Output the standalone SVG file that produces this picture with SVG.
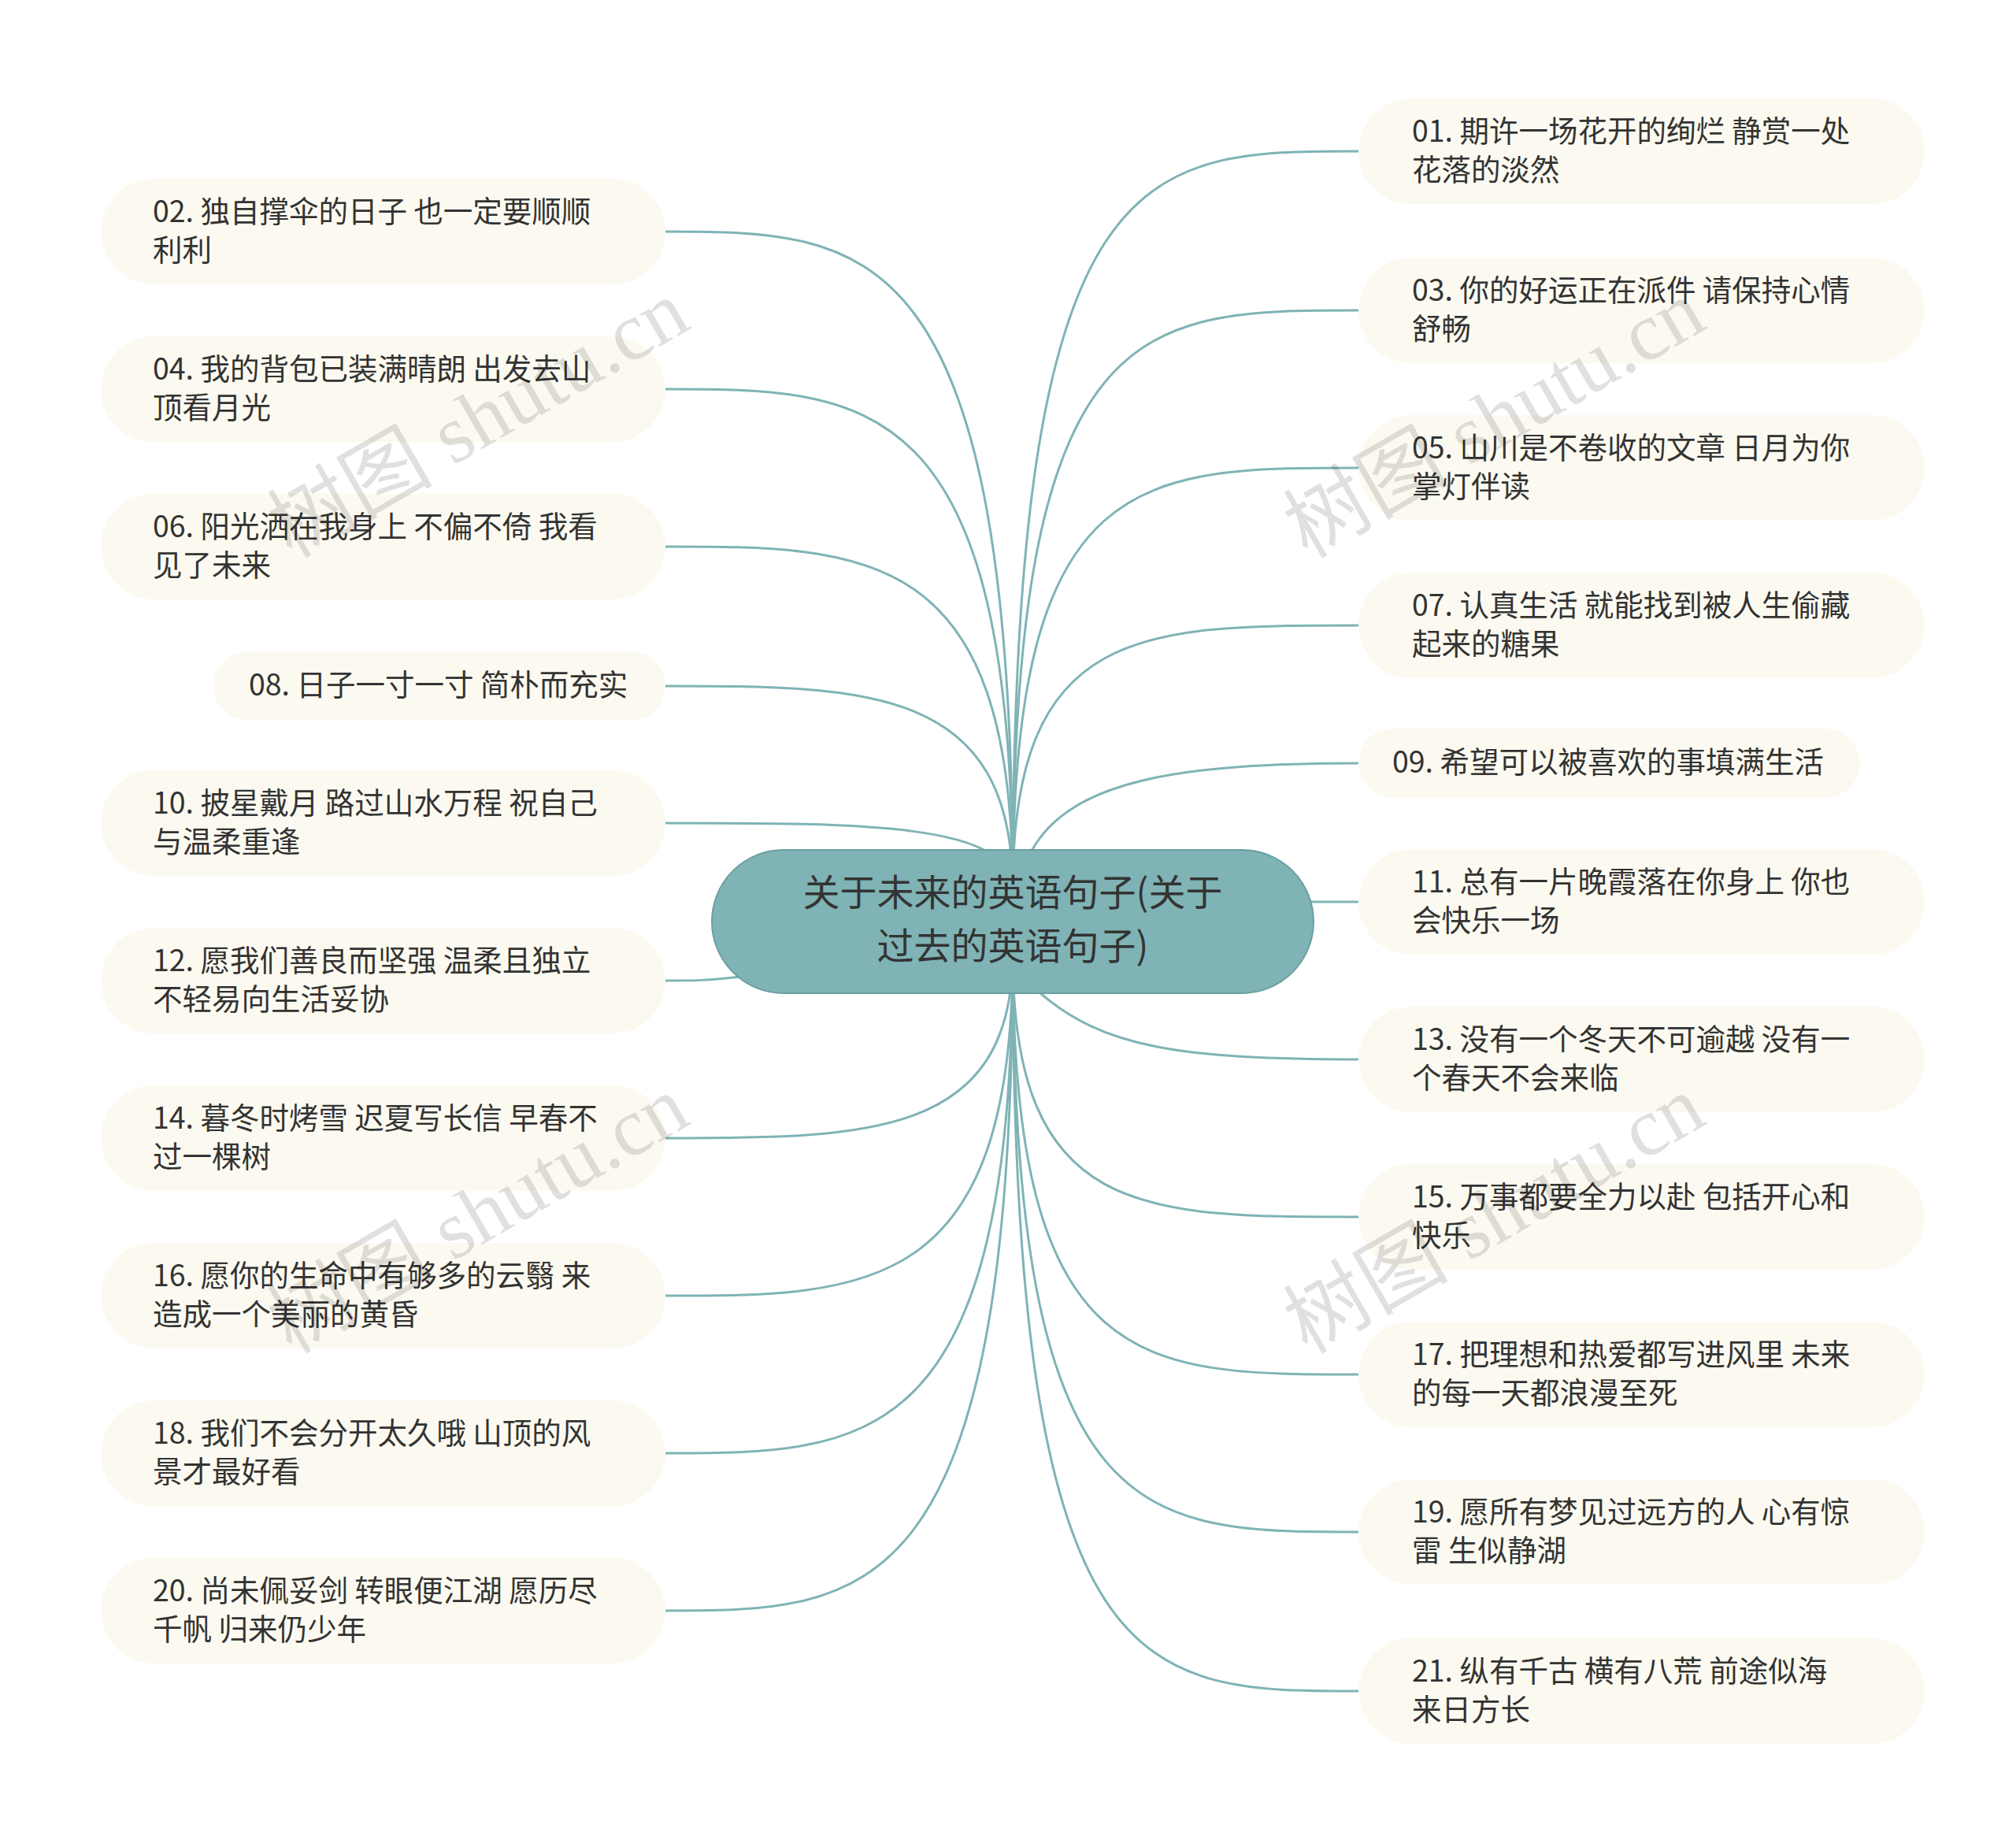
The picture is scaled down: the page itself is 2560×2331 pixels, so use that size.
<svg xmlns="http://www.w3.org/2000/svg" width="2560" height="2331" viewBox="0 0 2560 2331">
<style>
.n{fill:#fcfaf0}
.t{font-family:"Noto Sans CJK SC","Noto Sans",sans-serif;font-size:37.5px;fill:#333}
.e{fill:none;stroke:#7fb3b5;stroke-width:3}
.w{font-family:"Liberation Serif","Noto Sans CJK SC",serif;font-size:105px;fill:#000;fill-opacity:0.12}
</style>
<rect width="2560" height="2331" fill="#fff"/>
<g id="edges">
<path class="e" d="M1286 1130 C1286 294 1100 294 845 294"/>
<path class="e" d="M1286 1130 C1286 494 1100 494 845 494"/>
<path class="e" d="M1286 1130 C1286 694 1100 694 845 694"/>
<path class="e" d="M1286 1130 C1286 871 1100 871 845 871"/>
<path class="e" d="M1286 1130 C1286 1045 1100 1045 845 1045"/>
<path class="e" d="M940 1240 C900 1245 880 1245 845 1245"/>
<path class="e" d="M1286 1210 C1286 1445 1100 1445 845 1445"/>
<path class="e" d="M1286 1210 C1286 1645 1100 1645 845 1645"/>
<path class="e" d="M1286 1210 C1286 1845 1100 1845 845 1845"/>
<path class="e" d="M1286 1210 C1286 2045 1100 2045 845 2045"/>
<path class="e" d="M1286 1130 C1286 192 1450 192 1725 192"/>
<path class="e" d="M1286 1130 C1286 394 1450 394 1725 394"/>
<path class="e" d="M1286 1130 C1286 594 1450 594 1725 594"/>
<path class="e" d="M1286 1130 C1286 794 1450 794 1725 794"/>
<path class="e" d="M1310 1080 C1360 990 1500 969 1725 969"/>
<path class="e" d="M1660 1145 C1690 1145 1700 1145 1725 1145"/>
<path class="e" d="M1320 1260 C1400 1330 1500 1345 1725 1345"/>
<path class="e" d="M1286 1210 C1286 1545 1450 1545 1725 1545"/>
<path class="e" d="M1286 1210 C1286 1745 1450 1745 1725 1745"/>
<path class="e" d="M1286 1210 C1286 1945 1450 1945 1725 1945"/>
<path class="e" d="M1286 1210 C1286 2147 1450 2147 1725 2147"/>
</g>
<g id="center"><rect x="904" y="1079" width="764" height="182" rx="91" fill="#7fb3b5" stroke="#6a9fa1" stroke-width="2"/>
<text class="t" x="1286" y="1150" text-anchor="middle" style="font-size:47px">关于未来的英语句子(关于</text>
<text class="t" x="1286" y="1218" text-anchor="middle" style="font-size:47px">过去的英语句子)</text></g>
<g id="n02"><rect class="n" x="128" y="227" width="717" height="134" rx="67"/><text class="t" x="194" y="282">02. 独自撑伞的日子 也一定要顺顺</text><text class="t" x="194" y="331">利利</text></g>
<g id="n04"><rect class="n" x="128" y="427" width="717" height="134" rx="67"/><text class="t" x="194" y="482">04. 我的背包已装满晴朗 出发去山</text><text class="t" x="194" y="531">顶看月光</text></g>
<g id="n06"><rect class="n" x="128" y="627" width="717" height="134" rx="67"/><text class="t" x="194" y="682">06. 阳光洒在我身上 不偏不倚 我看</text><text class="t" x="194" y="731">见了未来</text></g>
<g id="n08"><rect class="n" x="271" y="827" width="574" height="88" rx="44"/><text class="t" x="316" y="883">08. 日子一寸一寸 简朴而充实</text></g>
<g id="n10"><rect class="n" x="128" y="978" width="717" height="134" rx="67"/><text class="t" x="194" y="1033">10. 披星戴月 路过山水万程 祝自己</text><text class="t" x="194" y="1082">与温柔重逢</text></g>
<g id="n12"><rect class="n" x="128" y="1178" width="717" height="134" rx="67"/><text class="t" x="194" y="1233">12. 愿我们善良而坚强 温柔且独立</text><text class="t" x="194" y="1282">不轻易向生活妥协</text></g>
<g id="n14"><rect class="n" x="128" y="1378" width="717" height="134" rx="67"/><text class="t" x="194" y="1433">14. 暮冬时烤雪 迟夏写长信 早春不</text><text class="t" x="194" y="1482">过一棵树</text></g>
<g id="n16"><rect class="n" x="128" y="1578" width="717" height="134" rx="67"/><text class="t" x="194" y="1633">16. 愿你的生命中有够多的云翳 来</text><text class="t" x="194" y="1682">造成一个美丽的黄昏</text></g>
<g id="n18"><rect class="n" x="128" y="1778" width="717" height="134" rx="67"/><text class="t" x="194" y="1833">18. 我们不会分开太久哦 山顶的风</text><text class="t" x="194" y="1882">景才最好看</text></g>
<g id="n20"><rect class="n" x="128" y="1978" width="717" height="134" rx="67"/><text class="t" x="194" y="2033">20. 尚未佩妥剑 转眼便江湖 愿历尽</text><text class="t" x="194" y="2082">千帆 归来仍少年</text></g>
<g id="n01"><rect class="n" x="1725" y="125" width="719" height="134" rx="67"/><text class="t" x="1793" y="180">01. 期许一场花开的绚烂 静赏一处</text><text class="t" x="1793" y="229">花落的淡然</text></g>
<g id="n03"><rect class="n" x="1725" y="327" width="719" height="134" rx="67"/><text class="t" x="1793" y="382">03. 你的好运正在派件 请保持心情</text><text class="t" x="1793" y="431">舒畅</text></g>
<g id="n05"><rect class="n" x="1725" y="527" width="719" height="134" rx="67"/><text class="t" x="1793" y="582">05. 山川是不卷收的文章 日月为你</text><text class="t" x="1793" y="631">掌灯伴读</text></g>
<g id="n07"><rect class="n" x="1725" y="727" width="719" height="134" rx="67"/><text class="t" x="1793" y="782">07. 认真生活 就能找到被人生偷藏</text><text class="t" x="1793" y="831">起来的糖果</text></g>
<g id="n09"><rect class="n" x="1725" y="925" width="637" height="88" rx="44"/><text class="t" x="1768" y="981">09. 希望可以被喜欢的事填满生活</text></g>
<g id="n11"><rect class="n" x="1725" y="1078" width="719" height="134" rx="67"/><text class="t" x="1793" y="1133">11. 总有一片晚霞落在你身上 你也</text><text class="t" x="1793" y="1182">会快乐一场</text></g>
<g id="n13"><rect class="n" x="1725" y="1278" width="719" height="134" rx="67"/><text class="t" x="1793" y="1333">13. 没有一个冬天不可逾越 没有一</text><text class="t" x="1793" y="1382">个春天不会来临</text></g>
<g id="n15"><rect class="n" x="1725" y="1478" width="719" height="134" rx="67"/><text class="t" x="1793" y="1533">15. 万事都要全力以赴 包括开心和</text><text class="t" x="1793" y="1582">快乐</text></g>
<g id="n17"><rect class="n" x="1725" y="1678" width="719" height="134" rx="67"/><text class="t" x="1793" y="1733">17. 把理想和热爱都写进风里 未来</text><text class="t" x="1793" y="1782">的每一天都浪漫至死</text></g>
<g id="n19"><rect class="n" x="1725" y="1878" width="719" height="134" rx="67"/><text class="t" x="1793" y="1933">19. 愿所有梦见过远方的人 心有惊</text><text class="t" x="1793" y="1982">雷 生似静湖</text></g>
<g id="n21"><rect class="n" x="1725" y="2080" width="719" height="134" rx="67"/><text class="t" x="1793" y="2135">21. 纵有千古 横有八荒 前途似海</text><text class="t" x="1793" y="2184">来日方长</text></g>
<g id="watermark">
<text class="w" transform="translate(370 710) rotate(-30)">树图 shutu.cn</text>
<text class="w" transform="translate(1660 710) rotate(-30)">树图 shutu.cn</text>
<text class="w" transform="translate(370 1720) rotate(-30)">树图 shutu.cn</text>
<text class="w" transform="translate(1660 1720) rotate(-30)">树图 shutu.cn</text>
</g>
</svg>
